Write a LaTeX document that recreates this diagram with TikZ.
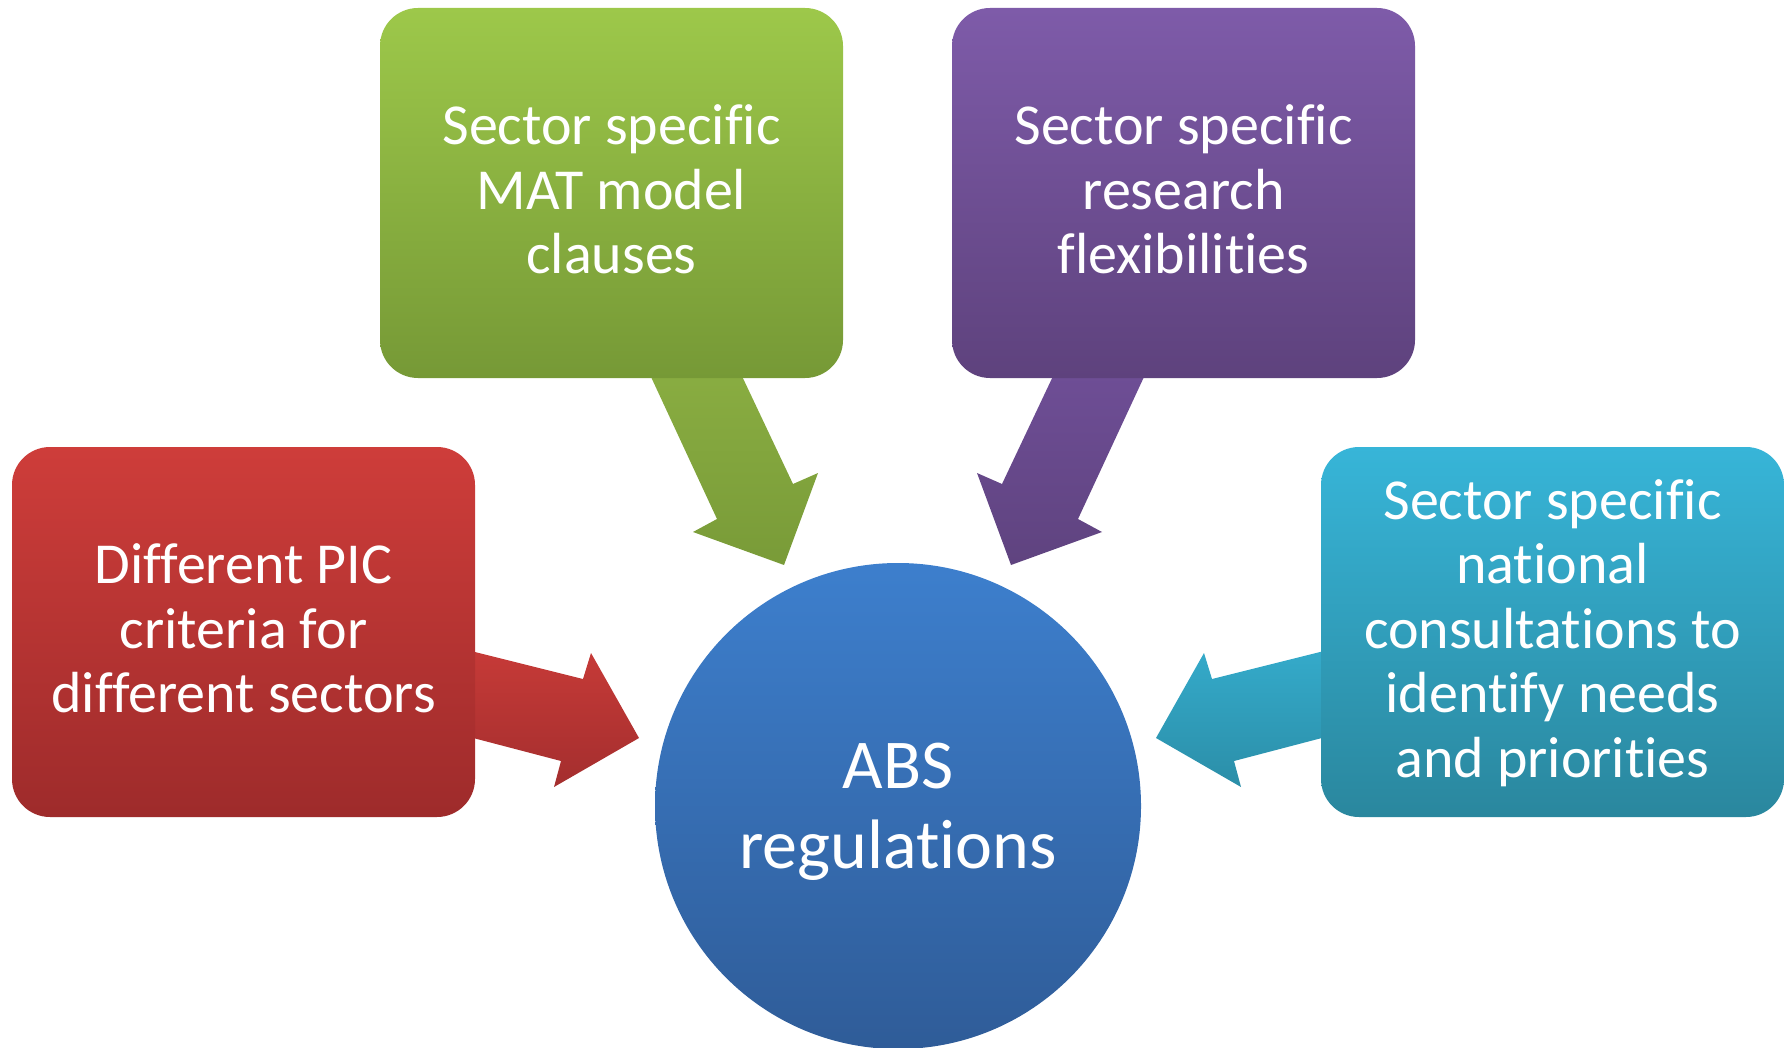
\documentclass[tikz,border=0pt]{standalone}
\usepackage{fontspec}
\setmainfont{Carlito}[Ligatures=NoCommon]
\definecolor{grTop}{HTML}{9DC84A}
\definecolor{grBot}{HTML}{769936}
\definecolor{grATop}{HTML}{8CB043}
\definecolor{grABot}{HTML}{799B38}
\definecolor{puTop}{HTML}{7E5BA9}
\definecolor{puBot}{HTML}{5E427D}
\definecolor{puATop}{HTML}{71509A}
\definecolor{puABot}{HTML}{5F437F}
\definecolor{reTop}{HTML}{CE3D3A}
\definecolor{reBot}{HTML}{9E2B2B}
\definecolor{reATop}{HTML}{C83B38}
\definecolor{reABot}{HTML}{A42E2E}
\definecolor{cyTop}{HTML}{37B5D8}
\definecolor{cyBot}{HTML}{2A879E}
\definecolor{cyATop}{HTML}{35ACCC}
\definecolor{cyABot}{HTML}{2B8EA8}
\definecolor{blTop}{HTML}{3D7FCD}
\definecolor{blBot}{HTML}{2F5C98}
\newcommand\boxtop{\rule{0pt}{52pt}}
\newcommand\hubtop{\rule{0pt}{68pt}}
\tikzset{
  boxnode/.style={rectangle, rounded corners=38pt, minimum width=463pt, minimum height=370pt,
    inner sep=0pt, text=white, align=center, font=\fontsize{58}{64.5}\selectfont},
  hubnode/.style={circle, minimum size=486pt, inner sep=0pt, text=white, align=center,
    font=\fontsize{70}{80}\selectfont}
}
\begin{document}
\begin{tikzpicture}[x=1pt,y=-1pt]
\useasboundingbox (0,0) rectangle (1784,1048);
% block arrows (drawn first, shafts run under the boxes)
\coordinate (tipG) at (784,565);
\coordinate (tipP) at (1011,565);
\coordinate (tipR) at (639,738);
\coordinate (tipC) at (1156,738);
\shade[top color=grATop, bottom color=grABot]
  (632,336) -- (717,519) -- (693,532) -- (tipG) -- (818,473) -- (793,484) -- (723,336) -- cycle;
\shade[top color=puATop, bottom color=puABot]
  (1163,336) -- (1078,519) -- (1102,532) -- (tipP) -- (977,473) -- (1002,484) -- (1072,336) -- cycle;
\shade[top color=reATop, bottom color=reABot]
  (435,642) -- (583,679) -- (591,653) -- (tipR) -- (554,787) -- (561,761) -- (435,728) -- cycle;
\shade[top color=cyATop, bottom color=cyABot]
  (1360,642) -- (1212,679) -- (1204,653) -- (tipC) -- (1241,787) -- (1234,761) -- (1360,728) -- cycle;
% boxes
\node[boxnode, top color=grTop, bottom color=grBot] (mat) at (611.5,193)
  {\boxtop Sector specific\\MAT model\\clauses\strut};
\node[boxnode, top color=puTop, bottom color=puBot] (res) at (1183.5,193)
  {\boxtop Sector specific\\research\\flexibilities\strut};
\node[boxnode, top color=reTop, bottom color=reBot] (pic) at (243.5,632)
  {\boxtop Different PIC\\criteria for\\different sectors\strut};
\node[boxnode, top color=cyTop, bottom color=cyBot] (nat) at (1552.5,632)
  {\boxtop Sector specific\\national\\consultations to\\identify needs\\and priorities\strut};
% hub
\node[hubnode, top color=blTop, bottom color=blBot] (abs) at (898,806)
  {\hubtop ABS\\regulations\strut};
\end{tikzpicture}
\end{document}
